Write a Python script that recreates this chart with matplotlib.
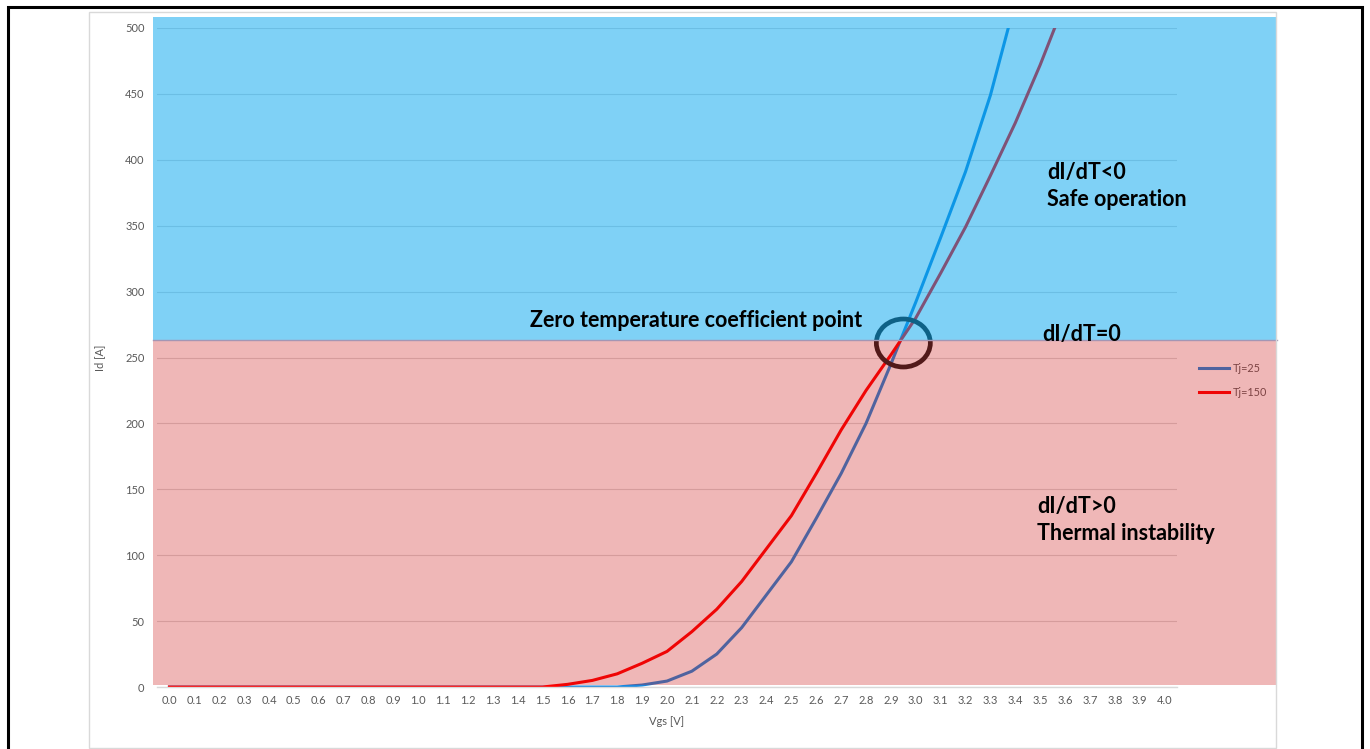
import numpy as np
import matplotlib
matplotlib.use("Agg")
import matplotlib.pyplot as plt
from matplotlib.patches import Rectangle, Ellipse

# === Data ===
vgs_labels = [f"{v / 10:.1f}" for v in range(41)]          # 0.0 ... 4.0
id_tj25 = [0] * 19 + [1.5, 4.5, 12, 25, 45, 70, 95, 128, 162, 200, 245,
                      292, 341, 391, 449, 520]              # 0.0 ... 3.4
id_tj150 = [0] * 16 + [2, 5, 10, 18, 27, 42, 59, 80, 105, 130, 162, 195,
                       225, 252, 280, 314, 349, 388, 428, 472, 520]  # 0.0 ... 3.6
y_ticks = list(range(0, 501, 50))
ztc_vgs, ztc_id = 2.95, 261         # zero temperature coefficient point
zone_split = 263                    # boundary between the two regions [A]
zone_top = 508

plt.rcParams['font.family'] = ['Lato', 'DejaVu Sans']
txt_gray = '#595959'
grid_gray = '#d9d9d9'

fig = plt.figure(figsize=(13.7, 7.49), dpi=100)
W, H = 1370, 749
ax = fig.add_axes([157 / W, 62 / H, 1020 / W, 659 / H])

x = np.arange(len(vgs_labels))
ax.plot(x[:len(id_tj25)], id_tj25, color='#1a87dd', lw=2.2, label='Tj=25', zorder=2)
ax.plot(x[:len(id_tj150)], id_tj150, color='#ff0000', lw=2.2, label='Tj=150', zorder=2)

ax.set_xlim(-0.5, len(vgs_labels) - 0.5)
ax.set_ylim(0, 500)
ax.set_xticks(x)
ax.set_xticklabels(vgs_labels)
ax.set_yticks(y_ticks)
ax.tick_params(axis='both', length=0, labelsize=8, labelcolor=txt_gray)
ax.tick_params(axis='x', pad=6)
ax.tick_params(axis='y', pad=9)
for s in ['top', 'right', 'left']:
    ax.spines[s].set_visible(False)
ax.spines['bottom'].set_color(grid_gray)
ax.spines['bottom'].set_linewidth(1)
ax.grid(axis='y', color=grid_gray, lw=0.8, zorder=0)
ax.set_axisbelow(True)

ax.set_xlabel('Vgs [V]', fontsize=8, color=txt_gray, labelpad=7)
ax.set_ylabel('Id [A]', fontsize=8, color=txt_gray, labelpad=14)

leg = ax.legend(loc='center left', bbox_to_anchor=(1.012, 0.465), frameon=False,
                fontsize=7.8, handlelength=2.8, handletextpad=0.3, labelspacing=1.2)
for t in leg.get_texts():
    t.set_color(txt_gray)
leg.set_zorder(3)

# circle round the crossing point (in data units)
px_x = (len(vgs_labels)) / 1020.0      # categories per pixel
px_y = 500 / 659.0                     # amps per pixel
ax.add_patch(Ellipse((ztc_vgs * 10, ztc_id), 54 * px_x, 48 * px_y, fill=False,
                     ec='#1e1e1e', lw=3.4, zorder=3, clip_on=False))

# translucent regions laid over the chart
x0 = -0.5 - 4 * px_x
x1 = len(vgs_labels) - 0.5 + 100 * px_x
ax.add_patch(Rectangle((x0, zone_split), x1 - x0, zone_top - zone_split,
                       fc='#00a5ef', alpha=0.5, lw=0, zorder=4, clip_on=False))
ax.add_patch(Rectangle((x0, 1.5), x1 - x0, zone_split - 1.5,
                       fc='#cd1212', alpha=0.3, lw=0, zorder=4, clip_on=False))
ax.plot([x0, x1], [zone_split, zone_split], color='#a496b4', lw=1, zorder=4, clip_on=False)

# annotations
bold = dict(fontsize=15.5, fontweight='bold', color='black', va='center',
            ha='left', zorder=6, clip_on=False)
ax.text(14.49, 277.7, 'Zero temperature coefficient point', **bold)
ax.text(35.27, 390.7, 'dI/dT<0', **bold)
ax.text(35.27, 369.5, 'Safe operation', **bold)
ax.text(35.07, 267.8, 'dI/dT=0', **bold)
ax.text(34.87, 137.3, 'dI/dT>0', **bold)
ax.text(34.87, 116.8, 'Thermal instability', **bold)

# chart frame and page border
fig.add_artist(Rectangle((88.5 / W, 1.5 / H), 1187 / W, 735.5 / H, fill=False,
                         ec=grid_gray, lw=1, transform=fig.transFigure))
fig.add_artist(Rectangle((7.5 / W, -10 / H), 1354 / W, (749 - 6.5 + 10) / H, fill=False,
                         ec='black', lw=2.2, transform=fig.transFigure))

fig.savefig('out.png', dpi=100)
plt.close(fig)
